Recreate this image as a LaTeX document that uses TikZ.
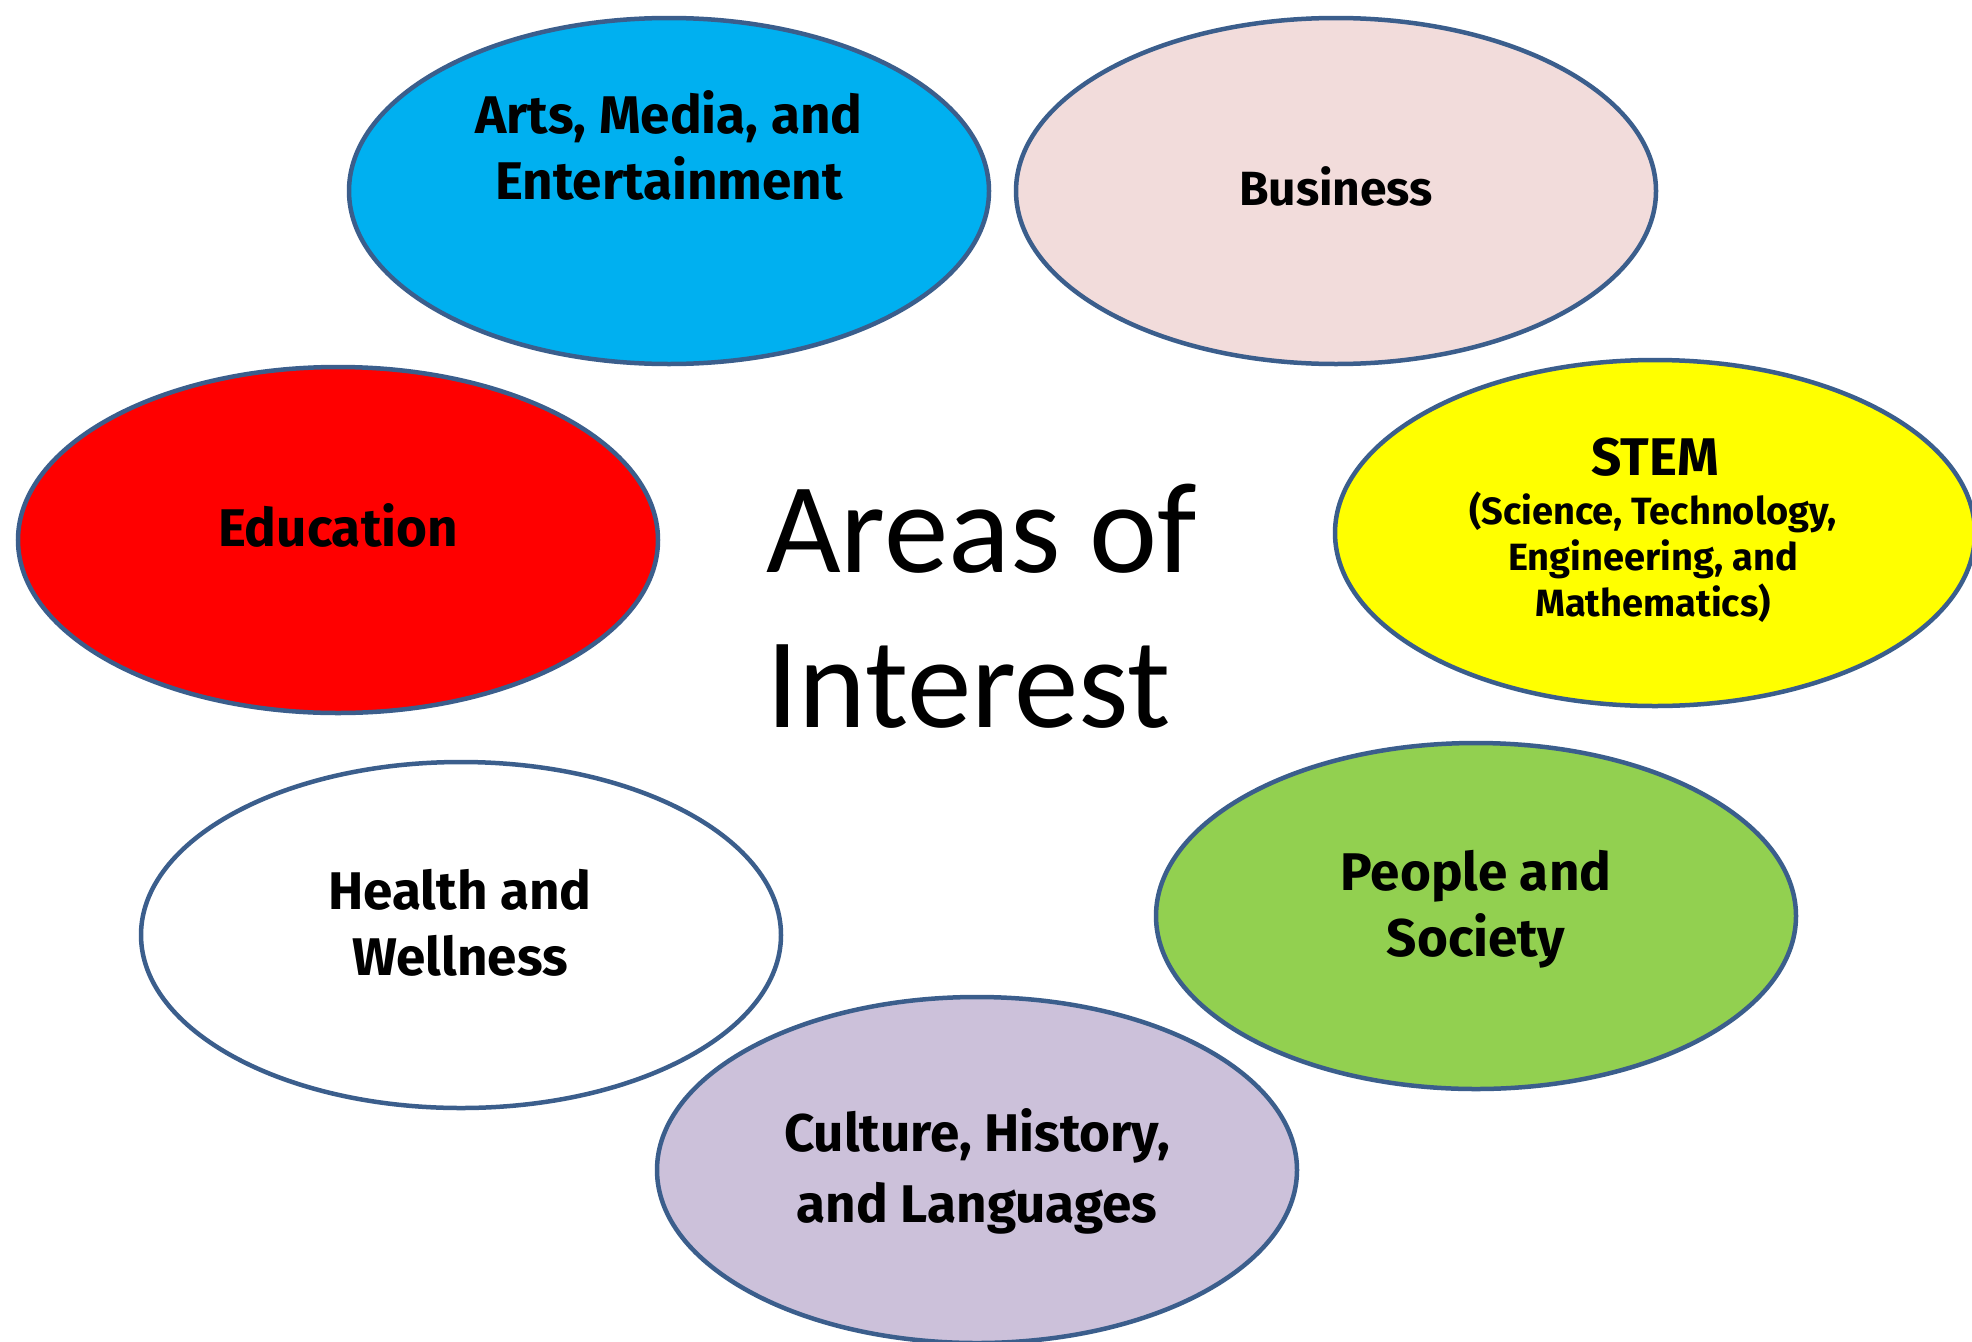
\documentclass[tikz,border=0pt]{standalone}
\usepackage{fontspec}
\setmainfont{Fira Sans}
\newfontfamily\titlefont{Carlito}
\usetikzlibrary{shapes.geometric}
\definecolor{rim}{HTML}{3B5E8C}
\definecolor{artsfill}{HTML}{00B0F0}
\definecolor{busfill}{HTML}{F2DCDB}
\definecolor{edufill}{HTML}{FF0000}
\definecolor{stemfill}{HTML}{FFFF00}
\definecolor{peoplefill}{HTML}{92D050}
\definecolor{culturefill}{HTML}{CCC1DA}
\tikzset{
  area/.style={ellipse, draw=rim, line width=4.5pt, inner sep=0pt,
    minimum width=640pt, minimum height=346pt},
  lbl/.style={anchor=base, inner sep=0pt, font=\fontsize{53}{62}\selectfont\bfseries},
  sublbl/.style={anchor=base, inner sep=0pt, font=\fontsize{38}{46}\selectfont\bfseries},
  ttl/.style={anchor=base west, inner sep=0pt, font=\titlefont\fontsize{129}{155}\selectfont}
}
\begin{document}
\begin{tikzpicture}[x=1pt,y=-1pt]
\useasboundingbox (0,0) rectangle (1972,1341);
\clip (0,0) rectangle (1972,1341);
\fill[white] (0,0) rectangle (1972,1341);

% the seven interest areas
\node[area, fill=artsfill] (arts) at (669,191) {};
\node[area, fill=busfill] (business) at (1336,191) {};
\node[area, fill=edufill] (education) at (338,540) {};
\node[area, fill=stemfill] (stem) at (1655,533) {};
\node[area, fill=white] (health) at (461,935) {};
\node[area, fill=peoplefill] (people) at (1476,916) {};
\node[area, fill=culturefill] (culture) at (977,1170) {};

% their labels, one node per line
\node[lbl] (arts1) at (669,133) {Arts, Media, and};
\node[lbl] (arts2) at (669,199) {Entertainment};
\node[lbl, font=\fontsize{48}{58}\selectfont\bfseries] (bus1) at (1336,205) {Business};
\node[lbl] (edu1) at (338,546) {Education};
\node[lbl] (stem1) at (1655,475) {STEM};
\node[sublbl] (stem2) at (1653,524) {(Science, Technology,};
\node[sublbl] (stem3) at (1653,570) {Engineering, and};
\node[sublbl] (stem4) at (1653,616) {Mathematics)};
\node[lbl] (health1) at (460,909) {Health and};
\node[lbl] (health2) at (460,975) {Wellness};
\node[lbl] (people1) at (1476,890) {People and};
\node[lbl] (people2) at (1476,956) {Society};
\node[lbl] (culture1) at (977,1151) {Culture, History,};
\node[lbl] (culture2) at (977,1222) {and Languages};

% centre title
\node[ttl] (title1) at (766,572) {Areas of};
\node[ttl] (title2) at (766,727) {Interest};
\end{tikzpicture}
\end{document}
